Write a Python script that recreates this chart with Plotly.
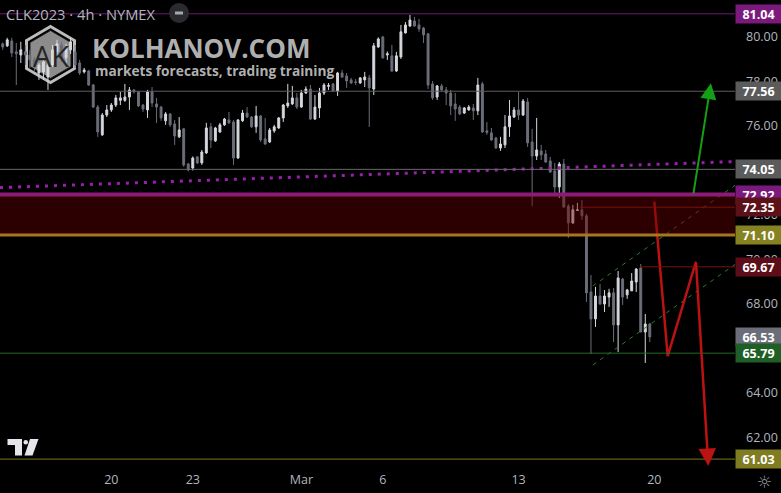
import plotly.graph_objects as go

# ---------------- data ----------------
opens = [79.69, 79.60, 79.82, 79.33, 79.19, 79.33, 79.19, 78.97, 78.38, 78.43,
         78.20, 78.74, 79.33, 79.64, 79.06, 79.42, 79.33, 78.83, 78.43, 78.47,
         77.84, 76.85, 75.60, 76.49, 76.72, 76.94, 77.15, 77.15, 77.30, 77.62,
         77.53, 76.94, 76.72, 77.53, 76.99, 76.85, 76.23, 76.54, 76.09, 75.51,
         75.87, 74.29, 74.11, 74.61, 74.34, 74.79, 75.96, 75.33, 75.73, 76.05,
         76.27, 76.18, 74.56, 76.23, 76.58, 76.40, 75.96, 76.45, 75.42, 75.28,
         75.78, 75.91, 76.36, 76.90, 76.99, 77.26, 76.85, 77.48, 77.66, 76.31,
         76.81, 77.48, 77.78, 77.89, 77.57, 78.38, 78.25, 78.07, 77.98, 77.93,
         78.07, 78.16, 77.66, 79.55, 80.00, 79.19, 79.15, 78.47, 79.10, 80.18,
         80.49, 80.72, 80.54, 80.40, 80.14, 77.89, 77.30, 77.80, 77.62, 77.48,
         76.99, 76.85, 76.58, 76.72, 76.81, 76.68, 77.89, 75.78, 75.69, 75.46,
         75.01, 75.15, 75.96, 76.40, 76.72, 76.49, 77.08, 75.28, 74.65, 74.88,
         74.74, 74.43, 73.98, 73.26, 74.29, 72.40, 71.64, 72.20, 72.23, 71.96,
         68.54, 67.33, 68.36, 68.00, 68.31, 68.50, 67.06, 69.12, 68.41, 68.59,
         68.99, 69.62, 66.74, 67.10]
highs = [79.75, 79.96, 79.96, 79.73, 79.78, 79.64, 79.42, 79.10, 78.83, 79.06,
         78.97, 79.64, 79.87, 79.78, 79.69, 79.96, 79.64, 78.97, 78.61, 78.52,
         77.89, 76.94, 76.58, 76.94, 77.03, 77.39, 77.53, 77.89, 77.75, 77.66,
         77.57, 76.99, 77.62, 77.75, 77.26, 76.90, 76.63, 76.58, 76.27, 76.40,
         75.91, 74.34, 74.63, 74.65, 74.92, 76.14, 76.14, 75.96, 76.14, 76.36,
         76.63, 76.27, 76.31, 76.72, 76.85, 76.45, 76.90, 76.49, 76.36, 75.91,
         76.05, 76.40, 76.99, 77.89, 77.80, 77.48, 77.62, 77.78, 77.84, 77.39,
         77.71, 77.93, 77.93, 77.93, 78.43, 78.52, 78.38, 78.16, 78.11, 78.20,
         78.43, 78.29, 79.73, 79.98, 80.05, 79.35, 79.64, 79.33, 80.54, 80.67,
         80.99, 80.90, 80.81, 80.45, 80.18, 78.02, 77.84, 77.89, 77.75, 77.62,
         77.48, 76.94, 76.85, 76.94, 76.99, 78.16, 77.98, 76.18, 75.91, 75.51,
         75.51, 76.49, 77.17, 76.85, 77.53, 77.21, 77.26, 75.87, 76.36, 75.15,
         74.92, 74.61, 74.34, 74.38, 74.52, 72.49, 72.45, 72.54, 72.67, 72.05,
         69.30, 68.77, 68.90, 68.63, 68.68, 68.72, 69.48, 69.17, 68.68, 69.39,
         69.62, 69.80, 67.55, 67.15]
lows = [79.42, 79.55, 79.10, 77.84, 78.83, 78.74, 78.61, 78.43, 78.07, 78.07,
        77.62, 78.65, 79.19, 78.88, 78.74, 79.24, 78.61, 78.29, 78.36, 77.80,
        76.81, 75.51, 75.55, 76.40, 76.63, 76.85, 76.94, 77.08, 76.72, 77.46,
        76.85, 76.63, 76.36, 76.85, 76.13, 76.23, 76.05, 75.96, 75.15, 75.46,
        74.16, 73.96, 74.00, 74.29, 74.25, 74.74, 75.01, 75.28, 75.69, 76.00,
        76.09, 74.25, 74.52, 76.18, 76.36, 75.91, 75.69, 75.28, 75.15, 75.24,
        75.69, 75.87, 76.18, 76.81, 76.94, 76.76, 76.81, 77.44, 76.27, 76.27,
        76.36, 77.39, 77.62, 77.53, 77.35, 78.16, 77.71, 77.89, 77.84, 77.89,
        77.75, 75.96, 77.39, 79.51, 79.03, 78.97, 78.43, 78.43, 79.01, 80.16,
        80.45, 80.47, 80.23, 79.73, 77.66, 77.17, 77.17, 77.53, 76.94, 76.49,
        76.23, 76.49, 76.54, 76.68, 76.27, 76.49, 75.69, 75.60, 75.33, 74.97,
        74.88, 75.01, 75.51, 76.36, 76.27, 76.45, 75.06, 72.40, 74.47, 74.47,
        74.34, 73.89, 72.85, 72.76, 72.31, 70.97, 71.60, 72.18, 71.78, 68.09,
        65.75, 66.97, 67.96, 67.64, 67.87, 66.29, 65.84, 67.96, 68.23, 68.59,
        68.54, 66.74, 65.35, 66.29]
closes = [79.55, 79.87, 79.28, 79.24, 79.42, 79.19, 78.97, 78.65, 78.74, 78.88,
          78.74, 79.42, 79.69, 79.06, 79.51, 79.78, 78.74, 78.38, 78.52, 77.84,
          76.85, 75.73, 76.49, 76.72, 76.94, 77.26, 77.26, 77.30, 77.62, 77.53,
          76.90, 76.76, 77.53, 77.03, 76.85, 76.36, 76.54, 76.05, 75.55, 75.82,
          74.25, 74.02, 74.56, 74.34, 74.83, 75.91, 75.37, 75.91, 76.05, 76.31,
          76.14, 74.56, 76.27, 76.58, 76.40, 75.96, 76.45, 75.37, 75.19, 75.82,
          75.96, 76.36, 76.94, 77.03, 77.26, 76.85, 77.48, 77.66, 76.31, 76.85,
          77.48, 77.84, 77.82, 77.57, 78.38, 78.20, 78.02, 77.93, 77.96, 78.16,
          78.20, 77.71, 79.60, 79.91, 79.06, 79.24, 78.47, 79.15, 80.23, 80.54,
          80.76, 80.49, 80.36, 80.09, 77.84, 77.26, 77.80, 77.62, 77.48, 76.90,
          76.76, 76.54, 76.81, 76.85, 76.68, 77.84, 75.73, 75.71, 75.37, 75.01,
          75.19, 75.96, 76.45, 76.72, 76.49, 77.12, 75.24, 74.65, 74.92, 74.70,
          74.38, 73.93, 73.26, 74.29, 72.36, 71.64, 72.23, 72.23, 71.96, 68.50,
          67.33, 68.36, 68.00, 68.36, 68.50, 67.06, 69.17, 68.31, 68.63, 69.03,
          69.57, 66.74, 67.10, 66.52]
bar_index = list(range(len(opens)))

x_tick_positions = [24, 42, 66, 84, 114, 144]
x_tick_labels = ["20", "23", "Mar", "6", "13", "20"]
y_tick_values = [62, 64, 68, 70, 72, 76, 78, 80]

# horizontal levels: price, line colour, line width, first bar (None = full width)
level_prices = [81.04, 77.56, 74.05, 72.92, 72.35, 71.10, 69.67, 65.79, 61.03]
level_colors = ["#6e1a72", "#5e5e5e", "#6a6a6a", "#8e1a78", "#7a1212", "#a87520", "#7a1212", "#1f6e26", "#7d7a1e"]
level_widths = [1, 1, 1, 4, 1, 3, 1, 1, 1]
level_starts = [None, None, None, None, 127.6, None, 140.8, None, None]

# price labels on the axis: price, box colour
label_prices = [81.04, 77.56, 74.05, 72.92, 72.35, 71.10, 69.67, 66.53, 65.79, 61.03]
label_colors = ["#7b1a7d", "#5b5b5b", "#5b5b5b", "#7b1a7d", "#5c1119", "#858221", "#5c0d17", "#6b6e78", "#1f5e24", "#7f7c22"]

zone_low, zone_high = 71.10, 72.92

dotted_x = [-0.6, 161.83]
dotted_y = [73.23, 74.40]
channel_low_x = [130.4, 161.83]
channel_low_y = [65.26, 69.78]
channel_up_x = [130.4, 161.83]
channel_up_y = [68.81, 73.33]
red_path_x = [144.0, 146.96, 153.2]
red_path_y = [72.60, 65.66, 69.90]
red_arrow_tip = (155.93, 60.72)
green_tail = (152.6, 72.90)
green_tip = (156.5, 77.92)

# ---------------- layout geometry ----------------
W, H = 781, 493
MR, MB = 46, 23
PW, PH = W - MR, H - MB
X_RANGE = [-0.6, PW / 4.525 - 0.6]
Y_RANGE = [60.54, 81.66]

def pxx(px):
    return px / PW

def pxy(py):
    return 1 - py / PH

fig = go.Figure()

fig.add_trace(go.Candlestick(
    x=bar_index, open=opens, high=highs, low=lows, close=closes,
    increasing=dict(line=dict(color="#d6d8de", width=1), fillcolor="#d6d8de"),
    decreasing=dict(line=dict(color="#6b6e79", width=1), fillcolor="#6b6e79"),
    whiskerwidth=0, showlegend=False, hoverinfo="skip"))

fig.add_trace(go.Scatter(x=dotted_x, y=dotted_y, mode="lines",
                         line=dict(color="#9b1fae", width=3, dash="3px,6px"),
                         showlegend=False, hoverinfo="skip"))
for cx, cy in [(channel_low_x, channel_low_y), (channel_up_x, channel_up_y)]:
    fig.add_trace(go.Scatter(x=cx, y=cy, mode="lines",
                             line=dict(color="#2f7a30", width=1, dash="4px,5px"),
                             showlegend=False, hoverinfo="skip"))
fig.add_trace(go.Scatter(x=red_path_x, y=red_path_y, mode="lines",
                         line=dict(color="#bb1212", width=2.5),
                         showlegend=False, hoverinfo="skip"))

shapes = []
# zone
shapes.append(dict(type="rect", xref="paper", yref="y", x0=0, x1=1, y0=zone_low, y1=zone_high,
                   fillcolor="rgba(105,0,0,0.42)", line=dict(width=0), layer="above"))
for p, c, w, s in zip(level_prices, level_colors, level_widths, level_starts):
    if s is None:
        shapes.append(dict(type="line", xref="paper", yref="y", x0=0, x1=1, y0=p, y1=p,
                           line=dict(color=c, width=w), layer="above"))
    else:
        shapes.append(dict(type="line", xref="x", yref="y", x0=s, x1=X_RANGE[1], y0=p, y1=p,
                           line=dict(color=c, width=w), layer="above"))

# watermark hexagon
def hexpath(cx, cy, rx, ry):
    pts = [(cx, cy - ry), (cx + rx, cy - ry / 2), (cx + rx, cy + ry / 2),
           (cx, cy + ry), (cx - rx, cy + ry / 2), (cx - rx, cy - ry / 2)]
    return "M " + " L ".join(f"{pxx(a):.5f},{pxy(b):.5f}" for a, b in pts) + " Z"

shapes.append(dict(type="path", xref="paper", yref="paper", path=hexpath(50.5, 54.5, 24, 28),
                   fillcolor="rgba(0,0,0,0)", line=dict(color="#bcbcbc", width=3), layer="below"))
shapes.append(dict(type="path", xref="paper", yref="paper", path=hexpath(50.5, 54.5, 20.5, 24),
                   fillcolor="rgba(165,165,165,0.85)", line=dict(color="#1a1a1a", width=1), layer="below"))

# header circle with minus
shapes.append(dict(type="circle", xref="paper", yref="paper", x0=pxx(169), x1=pxx(189),
                   y0=pxy(23), y1=pxy(3), fillcolor="#2a2b2f", line=dict(width=0)))
shapes.append(dict(type="rect", xref="paper", yref="paper", x0=pxx(175), x1=pxx(183),
                   y0=pxy(14.5), y1=pxy(11.5), fillcolor="#a5a8b0", line=dict(width=0)))

# TradingView logo
logo_fill = "#e4e6eb"
shapes.append(dict(type="rect", xref="paper", yref="paper", x0=pxx(7.5), x1=pxx(22),
                   y0=pxy(445), y1=pxy(439), fillcolor=logo_fill, line=dict(width=0)))
shapes.append(dict(type="rect", xref="paper", yref="paper", x0=pxx(15), x1=pxx(22),
                   y0=pxy(455.5), y1=pxy(439), fillcolor=logo_fill, line=dict(width=0)))
shapes.append(dict(type="circle", xref="paper", yref="paper", x0=pxx(23.5), x1=pxx(28),
                   y0=pxy(444.5), y1=pxy(440), fillcolor=logo_fill, line=dict(width=0)))
shapes.append(dict(type="path", xref="paper", yref="paper",
                   path=f"M {pxx(30):.5f},{pxy(439):.5f} L {pxx(38.5):.5f},{pxy(439):.5f} "
                        f"L {pxx(32.5):.5f},{pxy(455.5):.5f} L {pxx(24.5):.5f},{pxy(455.5):.5f} Z",
                   fillcolor=logo_fill, line=dict(width=0)))

annotations = []
annotations.append(dict(xref="paper", yref="paper", x=pxx(4), y=pxy(14), xanchor="left", yanchor="middle",
                        text="CLK2023 · 4h · NYMEX", showarrow=False,
                        font=dict(size=14.7, color="#b2b5be", family="Open Sans")))
annotations.append(dict(xref="paper", yref="paper", x=pxx(50.5), y=pxy(55), xanchor="center", yanchor="middle",
                        text="AK", showarrow=False,
                        font=dict(size=29, color="#262626", family="Open Sans")))
annotations.append(dict(xref="paper", yref="paper", x=pxx(90), y=pxy(48), xanchor="left", yanchor="middle",
                        text="<b>KOLHANOV.COM</b>", showarrow=False,
                        font=dict(size=26, color="rgba(200,200,200,0.9)", family="Open Sans")))
annotations.append(dict(xref="paper", yref="paper", x=pxx(93), y=pxy(70), xanchor="left", yanchor="middle",
                        text="<b>markets forecasts, trading training</b>", showarrow=False,
                        font=dict(size=13.7, color="rgba(200,200,200,0.9)", family="Open Sans")))

# arrows
annotations.append(dict(x=green_tip[0], y=green_tip[1], ax=green_tail[0], ay=green_tail[1],
                        xref="x", yref="y", axref="x", ayref="y", text="", showarrow=True,
                        arrowhead=2, arrowsize=1.6, arrowwidth=2, arrowcolor="#14a014"))
annotations.append(dict(x=red_arrow_tip[0], y=red_arrow_tip[1], ax=red_path_x[-1], ay=red_path_y[-1],
                        xref="x", yref="y", axref="x", ayref="y", text="", showarrow=True,
                        arrowhead=2, arrowsize=1.4, arrowwidth=2.5, arrowcolor="#bb1212"))

# price boxes
for p, c in zip(label_prices, label_colors):
    annotations.append(dict(xref="paper", yref="y", x=1, y=p, xanchor="left", yanchor="middle",
                            text=f"<b>{p:.2f}</b>", showarrow=False, bgcolor=c,
                            width=41, height=14, borderpad=2, align="center",
                            font=dict(size=12.5, color="#ffffff", family="Open Sans")))

# settings icon
annotations.append(dict(xref="paper", yref="paper", x=(764) / PW, y=pxy(482), xanchor="center",
                        yanchor="middle", text="☼", showarrow=False,
                        font=dict(size=17, color="#9598a1", family="DejaVu Sans")))

fig.update_layout(
    width=W, height=H,
    margin=dict(l=0, r=MR, t=0, b=MB),
    paper_bgcolor="#000000", plot_bgcolor="#000000",
    font=dict(family="Open Sans", color="#b2b5be"),
    boxgap=0.4,
    shapes=shapes, annotations=annotations,
    xaxis=dict(range=X_RANGE, tickvals=x_tick_positions, ticktext=x_tick_labels,
               showgrid=False, zeroline=False, showline=False, ticks="",
               tickfont=dict(size=12.5, color="#b2b5be"),
               rangeslider=dict(visible=False), fixedrange=True),
    yaxis=dict(range=Y_RANGE, side="right", tickvals=y_tick_values,
               ticktext=[f"{v:.2f}" for v in y_tick_values],
               showgrid=False, zeroline=False, showline=False, ticks="",
               ticklabelstandoff=10,
               tickfont=dict(size=12.5, color="#b2b5be")),
)

fig.write_html("out.html", config={"displayModeBar": False},
               post_script="document.body.style.margin='0px';document.body.style.background='#000';")
